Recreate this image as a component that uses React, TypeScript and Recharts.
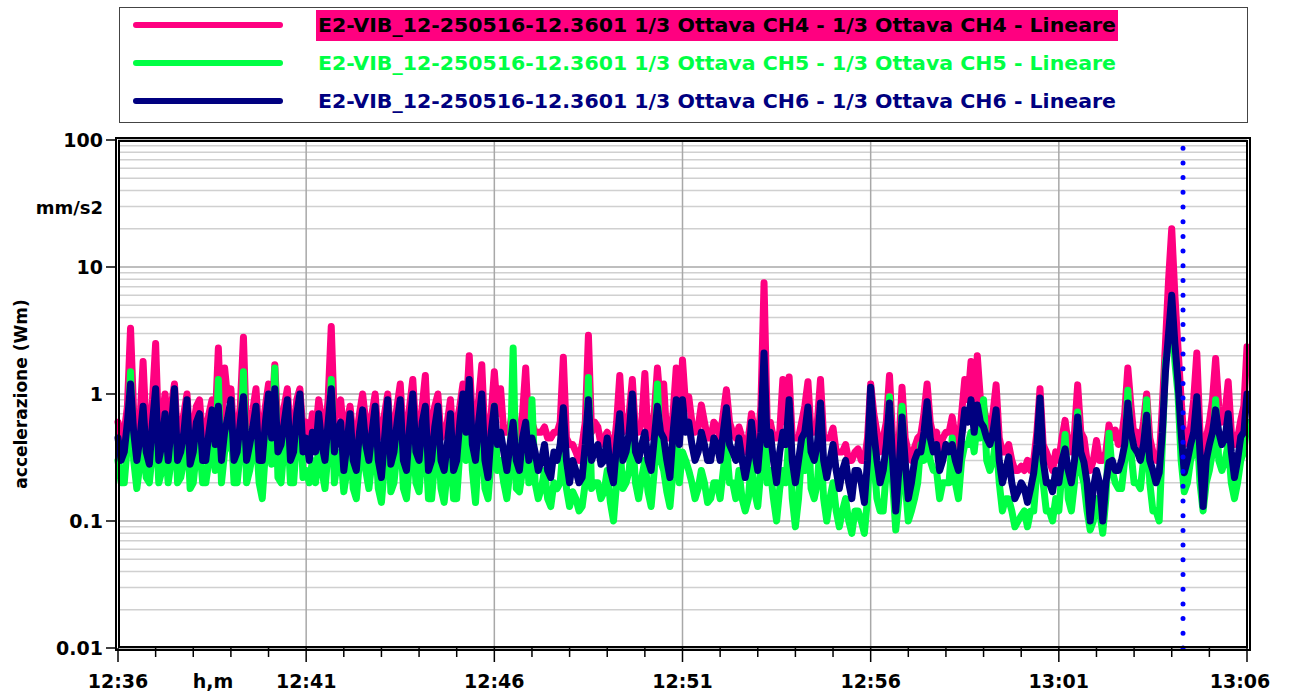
import { LineChart, Line, XAxis, YAxis, CartesianGrid, ReferenceLine } from "recharts";

// x axis: one sample every 5 s from 12:36:00 to 13:06:00
const STEP_S = 5;
const TIME_LABELS = ["12:36", "12:41", "12:46", "12:51", "12:56", "13:01", "13:06"];
const MARKER_S = 1698; // dotted cursor ~13:04:18

const Y_TICKS = [0.01, 0.1, 1, 10, 100];
const Y_TICK_LABELS = ["0.01", "0.1", "1", "10", "100"];
const Y_MINOR = [
  0.02, 0.03, 0.04, 0.05, 0.06, 0.07, 0.08, 0.09,
  0.2, 0.3, 0.4, 0.5, 0.6, 0.7, 0.8, 0.9,
  2, 3, 4, 5, 6, 7, 8, 9,
  20, 30, 40, 50, 60, 70, 80, 90,
];

const SERIES_NAMES = [
  "E2-VIB_12-250516-12.3601 1/3 Ottava CH4 - 1/3 Ottava CH4 - Lineare",
  "E2-VIB_12-250516-12.3601 1/3 Ottava CH5 - 1/3 Ottava CH5 - Lineare",
  "E2-VIB_12-250516-12.3601 1/3 Ottava CH6 - 1/3 Ottava CH6 - Lineare",
];
const COLORS = ["#ff0080", "#00ff44", "#000080"];

// mm/s2
const CH4 = [
  // 12:36 - 12:41
  0.6, 0.45, 0.5, 0.8, 3.3, 0.7, 0.5, 0.6, 1.8, 0.5,
  0.45, 0.9, 2.5, 0.45, 0.6, 1.0, 0.55, 0.8, 1.2, 0.45,
  0.5, 0.7, 1.0, 0.4, 0.55, 0.8, 0.9, 0.45, 0.5, 0.7,
  0.9, 0.6, 2.3, 0.5, 1.6, 0.9, 1.1, 0.45, 0.5, 0.8,
  2.8, 0.45, 0.6, 0.75, 1.1, 0.45, 0.5, 0.8, 1.2, 0.6,
  1.7, 0.5, 0.6, 0.8, 1.1, 0.45, 0.5, 0.9, 1.1, 0.5,
  0.6,
  // 12:41 - 12:46
  0.45, 0.7, 0.5, 0.9, 0.6, 0.5, 0.9, 3.4, 0.6, 0.8,
  0.9, 0.5, 0.6, 0.8, 0.45, 0.45, 0.7, 1.0, 0.6, 0.5,
  0.7, 1.0, 0.45, 0.5, 0.7, 1.0, 0.45, 0.55, 0.8, 1.2,
  0.45, 0.5, 0.8, 1.3, 0.5, 0.45, 0.8, 1.4, 0.4, 0.6,
  0.8, 1.0, 0.45, 0.5, 0.6, 0.9, 0.4, 0.6, 0.8, 1.2,
  0.7, 2.0, 0.6, 0.6, 0.9, 1.7, 0.45, 0.5, 0.7, 1.5,
  // 12:46 - 12:51
  0.7, 1.1, 0.5, 0.5, 0.55, 0.8, 0.45, 0.5, 0.7, 1.6,
  0.5, 0.6, 0.5, 0.5, 0.5, 0.55, 0.45, 0.45, 0.5, 0.5,
  0.6, 1.95, 0.45, 0.4, 0.4, 0.35, 0.3, 0.4, 0.6, 2.9,
  0.5, 0.6, 0.55, 0.4, 0.45, 0.5, 0.4, 0.35, 0.6, 1.4,
  0.5, 0.6, 0.7, 1.3, 0.5, 0.5, 0.6, 1.45, 0.45, 0.5,
  0.7, 1.6, 0.8, 1.2, 0.45, 0.45, 0.7, 1.6, 0.6, 1.85,
  // 12:51 - 12:56
  0.8, 0.95, 0.6, 0.5, 0.55, 0.82, 0.6, 0.45, 0.45, 0.6,
  0.55, 0.45, 0.7, 1.08, 0.6, 0.5, 0.45, 0.55, 0.45, 0.35,
  0.45, 0.7, 0.5, 0.4, 0.8, 7.5, 0.6, 0.6, 0.45, 0.45,
  0.5, 1.3, 0.6, 1.36, 0.45, 0.45, 0.45, 0.6, 0.8, 1.25,
  0.5, 0.5, 0.6, 1.3, 0.45, 0.45, 0.45, 0.54, 0.35, 0.35,
  0.35, 0.4, 0.3, 0.3, 0.35, 0.37, 0.3, 0.3, 0.45, 1.2,
  // 12:56 - 13:01
  0.7, 0.5, 0.35, 0.45, 0.6, 1.4, 0.45, 0.3, 0.4, 1.13,
  0.45, 0.35, 0.3, 0.38, 0.45, 0.48, 0.7, 1.2, 0.6, 0.46,
  0.5, 0.35, 0.45, 0.5, 0.5, 0.66, 0.45, 0.35, 0.7, 1.3,
  0.9, 1.8, 0.8, 2.0, 0.9, 0.8, 0.6, 0.5, 0.7, 1.18,
  0.45, 0.35, 0.35, 0.4, 0.3, 0.25, 0.25, 0.27, 0.25, 0.3,
  0.25, 0.3, 0.5, 1.1, 0.4, 0.35, 0.3, 0.25, 0.35, 0.3,
  // 13:01 - 13:06
  0.45, 0.62, 0.4, 0.35, 0.5, 1.18, 0.5, 0.45, 0.3, 0.25,
  0.3, 0.43, 0.3, 0.3, 0.35, 0.57, 0.45, 0.52, 0.4, 0.45,
  0.7, 1.6, 0.8, 0.45, 0.5, 0.4, 0.6, 1.0, 0.45, 0.35,
  0.3, 0.3, 0.8, 2.5, 8.0, 20, 6.0, 2.3, 0.9, 0.4,
  0.45, 0.55, 0.9, 2.1, 0.5, 0.3, 0.45, 0.6, 0.9, 1.9,
  0.8, 0.6, 0.7, 1.25, 0.5, 0.4, 0.45, 0.62, 0.8, 2.35,
];

const CH5 = [
  // 12:36 - 12:41
  0.3, 0.2, 0.2, 0.4, 1.5, 0.3, 0.18, 0.28, 0.5, 0.22,
  0.2, 0.35, 0.7, 0.2, 0.25, 0.45, 0.2, 0.3, 0.8, 0.2,
  0.22, 0.3, 0.6, 0.18, 0.2, 0.35, 0.4, 0.2, 0.2, 0.3,
  0.5, 0.25, 1.3, 0.2, 0.35, 0.4, 0.6, 0.2, 0.2, 0.35,
  1.5, 0.2, 0.25, 0.35, 0.5, 0.2, 0.15, 0.35, 0.7, 0.28,
  1.6, 0.22, 0.2, 0.4, 0.6, 0.2, 0.2, 0.45, 0.8, 0.22,
  0.25,
  // 12:41 - 12:46
  0.2, 0.3, 0.2, 0.4, 0.25, 0.18, 0.35, 1.3, 0.2, 0.3,
  0.35, 0.17, 0.25, 0.5, 0.18, 0.15, 0.3, 0.45, 0.25, 0.18,
  0.3, 0.5, 0.18, 0.14, 0.28, 0.8, 0.17, 0.2, 0.35, 0.6,
  0.18, 0.15, 0.3, 0.5, 0.2, 0.17, 0.35, 0.45, 0.15, 0.15,
  0.3, 0.5, 0.18, 0.14, 0.25, 0.4, 0.15, 0.15, 0.35, 0.6,
  0.3, 0.8, 0.25, 0.14, 0.35, 0.5, 0.18, 0.15, 0.3, 0.8,
  // 12:46 - 12:51
  0.25, 0.3, 0.2, 0.15, 0.25, 2.3, 0.18, 0.17, 0.25, 0.5,
  0.2, 0.9, 0.2, 0.15, 0.18, 0.25, 0.15, 0.13, 0.2, 0.18,
  0.2, 0.4, 0.18, 0.13, 0.17, 0.15, 0.12, 0.13, 0.2, 1.35,
  0.18, 0.2, 0.2, 0.15, 0.17, 0.25, 0.14, 0.1, 0.2, 0.4,
  0.18, 0.2, 0.25, 0.5, 0.2, 0.15, 0.22, 0.3, 0.17, 0.13,
  0.25, 1.2, 0.3, 0.25, 0.17, 0.13, 0.25, 0.5, 0.2, 0.35,
  // 12:51 - 12:56
  0.3, 0.25, 0.2, 0.15, 0.18, 0.25, 0.2, 0.14, 0.15, 0.2,
  0.2, 0.15, 0.25, 0.4, 0.2, 0.2, 0.15, 0.25, 0.15, 0.12,
  0.15, 0.3, 0.17, 0.13, 0.25, 1.2, 0.2, 0.25, 0.15, 0.1,
  0.18, 0.25, 0.2, 0.5, 0.15, 0.09, 0.15, 0.35, 0.25, 0.7,
  0.18, 0.15, 0.2, 0.45, 0.15, 0.1, 0.15, 0.2, 0.12, 0.09,
  0.12, 0.15, 0.1, 0.08, 0.12, 0.12, 0.1, 0.08, 0.15, 0.5,
  // 12:56 - 13:01
  0.3, 0.15, 0.12, 0.12, 0.25, 0.95, 0.2, 0.085, 0.15, 0.8,
  0.2, 0.1, 0.12, 0.15, 0.2, 0.4, 0.3, 0.5, 0.3, 0.25,
  0.25, 0.15, 0.2, 0.2, 0.2, 0.45, 0.2, 0.15, 0.3, 0.4,
  0.4, 0.5, 0.35, 0.6, 0.45, 0.9, 0.3, 0.25, 0.3, 0.45,
  0.2, 0.12, 0.15, 0.15, 0.12, 0.09, 0.1, 0.11, 0.12, 0.09,
  0.12, 0.12, 0.25, 0.6, 0.2, 0.12, 0.12, 0.1, 0.15, 0.12,
  // 13:01 - 13:06
  0.25, 0.48, 0.15, 0.12, 0.2, 0.72, 0.25, 0.2, 0.12, 0.085,
  0.1, 0.15, 0.12, 0.08, 0.15, 0.49, 0.25, 0.2, 0.18, 0.18,
  0.3, 1.07, 0.35, 0.2, 0.2, 0.18, 0.3, 0.9, 0.2, 0.12,
  0.12, 0.1, 0.4, 1.8, 2.5, 4.5, 1.8, 1.0, 0.3, 0.17,
  0.2, 0.3, 0.35, 0.6, 0.2, 0.12, 0.2, 0.25, 0.35, 0.9,
  0.3, 0.25, 0.3, 0.4, 0.2, 0.15, 0.2, 0.3, 0.35, 0.6,
];

const CH6 = [
  // 12:36 - 12:41
  0.45, 0.3, 0.35, 0.6, 1.2, 0.5, 0.3, 0.45, 0.8, 0.35,
  0.28, 0.6, 1.1, 0.3, 0.4, 0.7, 0.3, 0.55, 1.1, 0.3,
  0.35, 0.5, 0.9, 0.28, 0.35, 0.6, 0.7, 0.3, 0.3, 0.5,
  0.75, 0.4, 0.8, 0.3, 0.5, 0.65, 0.9, 0.3, 0.35, 0.6,
  0.95, 0.3, 0.4, 0.55, 0.8, 0.3, 0.3, 0.6, 1.0, 0.45,
  1.1, 0.35, 0.4, 0.6, 0.9, 0.3, 0.35, 0.7, 1.0, 0.35,
  0.45,
  // 12:41 - 12:46
  0.3, 0.5, 0.35, 0.7, 0.4, 0.3, 0.6, 1.1, 0.35, 0.5,
  0.6, 0.25, 0.4, 0.7, 0.3, 0.25, 0.5, 0.75, 0.4, 0.3,
  0.5, 0.8, 0.3, 0.22, 0.45, 0.9, 0.28, 0.35, 0.6, 0.9,
  0.3, 0.25, 0.55, 1.0, 0.35, 0.3, 0.6, 0.8, 0.25, 0.3,
  0.55, 0.8, 0.3, 0.25, 0.4, 0.7, 0.25, 0.3, 0.6, 1.0,
  0.5, 1.3, 0.4, 0.3, 0.6, 1.0, 0.3, 0.22, 0.5, 0.8,
  // 12:46 - 12:51
  0.4, 0.5, 0.35, 0.25, 0.4, 0.6, 0.3, 0.25, 0.45, 0.6,
  0.3, 0.45, 0.35, 0.25, 0.3, 0.4, 0.25, 0.22, 0.35, 0.3,
  0.4, 0.78, 0.3, 0.2, 0.3, 0.25, 0.2, 0.22, 0.4, 0.9,
  0.3, 0.35, 0.4, 0.28, 0.3, 0.45, 0.25, 0.2, 0.4, 0.7,
  0.3, 0.35, 0.5, 1.0, 0.35, 0.3, 0.4, 0.5, 0.3, 0.25,
  0.45, 0.8, 0.5, 0.45, 0.3, 0.22, 0.5, 0.9, 0.4, 0.9,
  // 12:51 - 12:56
  0.5, 0.6, 0.4, 0.3, 0.35, 0.5, 0.4, 0.3, 0.3, 0.45,
  0.4, 0.3, 0.5, 0.78, 0.4, 0.35, 0.3, 0.45, 0.3, 0.22,
  0.3, 0.6, 0.35, 0.25, 0.5, 2.1, 0.4, 0.5, 0.3, 0.2,
  0.35, 0.5, 0.4, 0.9, 0.3, 0.2, 0.3, 0.45, 0.5, 0.79,
  0.35, 0.3, 0.4, 0.85, 0.3, 0.22, 0.3, 0.4, 0.25, 0.18,
  0.25, 0.3, 0.2, 0.15, 0.25, 0.25, 0.2, 0.14, 0.3, 1.13,
  // 12:56 - 13:01
  0.5, 0.3, 0.2, 0.25, 0.4, 0.85, 0.3, 0.12, 0.25, 0.66,
  0.3, 0.15, 0.2, 0.3, 0.35, 0.35, 0.5, 0.87, 0.45, 0.35,
  0.4, 0.25, 0.3, 0.4, 0.35, 0.4, 0.3, 0.25, 0.45, 0.75,
  0.6, 0.9, 0.5, 0.82, 0.6, 0.55, 0.45, 0.4, 0.5, 0.75,
  0.3, 0.2, 0.25, 0.32, 0.2, 0.15, 0.17, 0.2, 0.18, 0.14,
  0.18, 0.24, 0.4, 0.93, 0.3, 0.2, 0.2, 0.17, 0.25, 0.2,
  // 13:01 - 13:06
  0.3, 0.37, 0.25, 0.2, 0.3, 0.66, 0.35, 0.29, 0.2, 0.1,
  0.18, 0.25, 0.2, 0.1, 0.2, 0.29, 0.3, 0.25, 0.25, 0.3,
  0.4, 0.85, 0.5, 0.38, 0.35, 0.3, 0.4, 0.68, 0.3, 0.25,
  0.2, 0.24, 0.5, 1.5, 3.0, 6.0, 2.5, 1.25, 0.5, 0.24,
  0.3, 0.4, 0.5, 0.95, 0.35, 0.13, 0.3, 0.4, 0.5, 0.75,
  0.5, 0.4, 0.45, 0.7, 0.35, 0.22, 0.3, 0.46, 0.5, 1.0,
];

const data = CH4.map((v, i) => ({ t: i * STEP_S, ch4: v, ch5: CH5[i], ch6: CH6[i] }));

const X_TICKS: number[] = [];
for (let s = 0; s <= 1800; s += 60) X_TICKS.push(s);

const FONT = "'Comic Sans MS', 'DejaVu Sans', sans-serif";

const XTick = (props: any) => {
  const { x, y, payload } = props;
  const v = payload.value as number;
  const major = v % 300 === 0;
  return (
    <g>
      <line x1={x} x2={x} y1={y} y2={y + (major ? 14 : 9)} stroke="#000" strokeWidth={1.5} />
      {major && (
        <text
          x={x + (v === 1800 ? -7 : 0)}
          y={y + 40}
          textAnchor="middle"
          fontFamily={FONT}
          fontWeight="bold"
          fontSize={19}
          fill="#000"
        >
          {TIME_LABELS[v / 300]}
        </text>
      )}
    </g>
  );
};

const YTick = (props: any) => {
  const { x, y, payload } = props;
  const idx = Y_TICKS.indexOf(payload.value);
  return (
    <g>
      <line x1={x - 12} x2={x - 2} y1={y} y2={y} stroke="#000" strokeWidth={1.5} />
      <text x={x - 15} y={y + 7} textAnchor="end" fontFamily={FONT} fontWeight="bold" fontSize={19} fill="#000">
        {Y_TICK_LABELS[idx]}
      </text>
    </g>
  );
};

export default function App() {
  return (
    <div style={{ position: "fixed", left: 0, top: 0, width: 1291, height: 692, background: "#fff" }}>
      <LineChart
        width={1291}
        height={692}
        data={data}
        margin={{ top: 140, right: 44, bottom: 4, left: 18 }}
      >
        <CartesianGrid horizontalValues={Y_MINOR} vertical={false} stroke="#d0d0d0" strokeWidth={1.5} />
        <CartesianGrid
          horizontalValues={Y_TICKS}
          verticalValues={[300, 600, 900, 1200, 1500]}
          stroke="#a8a8a8"
          strokeWidth={1.5}
        />
        <XAxis
          dataKey="t"
          type="number"
          domain={[0, 1800]}
          ticks={X_TICKS}
          interval={0}
          tick={<XTick />}
          tickLine={false}
          axisLine={false}
          tickSize={0}
          tickMargin={0}
          height={40}
        />
        <YAxis
          type="number"
          scale="log"
          domain={[0.01, 100]}
          allowDataOverflow
          ticks={Y_TICKS}
          interval={0}
          tick={<YTick />}
          tickLine={false}
          axisLine={false}
          tickSize={0}
          tickMargin={0}
          width={100}
        />
        <Line type="linear" dataKey="ch4" stroke={COLORS[0]} strokeWidth={7} strokeLinejoin="round" strokeLinecap="round" dot={false} isAnimationActive={false} />
        <Line type="linear" dataKey="ch5" stroke={COLORS[1]} strokeWidth={7} strokeLinejoin="round" strokeLinecap="round" dot={false} isAnimationActive={false} />
        <Line type="linear" dataKey="ch6" stroke={COLORS[2]} strokeWidth={7} strokeLinejoin="round" strokeLinecap="round" dot={false} isAnimationActive={false} />
        <ReferenceLine x={MARKER_S} stroke="#0000ff" strokeWidth={5} strokeDasharray="0 14.7" strokeLinecap="round" />
      </LineChart>

      {/* plot frame */}
      <div
        style={{
          position: "absolute",
          left: 115,
          top: 137,
          width: 1126,
          height: 504,
          border: "5px double #000",
          pointerEvents: "none",
        }}
      />

      <svg width={1291} height={692} style={{ position: "absolute", left: 0, top: 0, pointerEvents: "none" }}>
        <rect x={119.5} y={7.5} width={1128} height={115} fill="none" stroke="#444" strokeWidth={1} />
        <rect x={316} y={10} width={802} height={31} fill={COLORS[0]} />
        {SERIES_NAMES.map((name, i) => (
          <g key={name}>
            <line x1={136} x2={280} y1={25 + i * 38} y2={25 + i * 38} stroke={COLORS[i]} strokeWidth={6} strokeLinecap="round" />
            <text
              x={318}
              y={32 + i * 38}
              textLength={798}
              lengthAdjust="spacingAndGlyphs"
              fontFamily={FONT}
              fontWeight="bold"
              fontSize={19}
              fill={i === 0 ? "#000" : COLORS[i]}
            >
              {name}
            </text>
          </g>
        ))}
        <text x={103} y={214} textAnchor="end" fontFamily={FONT} fontWeight="bold" fontSize={18} fill="#000">
          mm/s2
        </text>
        <text
          transform="translate(27,394) rotate(-90)"
          textAnchor="middle"
          fontFamily={FONT}
          fontWeight="bold"
          fontSize={17}
          fill="#000"
        >
          accelerazione (Wm)
        </text>
        <text x={213} y={688} textAnchor="middle" fontFamily={FONT} fontWeight="bold" fontSize={19} fill="#000">
          h,m
        </text>
      </svg>
    </div>
  );
}
